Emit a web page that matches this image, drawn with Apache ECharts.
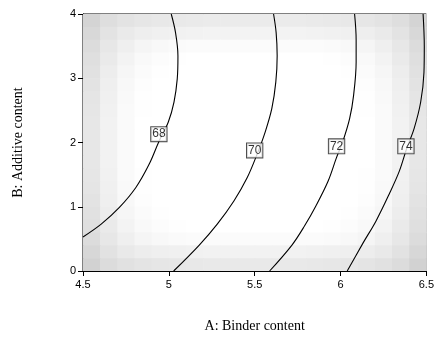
<!DOCTYPE html>
<html>
<head>
<meta charset="utf-8">
<style>
  html, body { margin: 0; padding: 0; background: #fff; }
  #chart { width: 437px; height: 338px; }
</style>
<script src="https://cdn.jsdelivr.net/npm/echarts@6/dist/echarts.min.js"></script>
</head>
<body>
<div id="chart"></div>
<script>
// Axis ranges and ticks
const xTicks = [4.5, 5, 5.5, 6, 6.5];
const yTicks = [0, 1, 2, 3, 4];

// Response contours: [Binder content, Additive content]
const contour68 = [[5.014, 4.0], [5.039, 3.71], [5.053, 3.35], [5.049, 2.99], [5.030, 2.63], [4.997, 2.32], [4.943, 2.02], [4.885, 1.66], [4.808, 1.30], [4.712, 0.99], [4.606, 0.73], [4.5, 0.53]];
const contour70 = [[5.610, 4.0], [5.625, 3.71], [5.631, 3.35], [5.623, 2.94], [5.600, 2.53], [5.562, 2.17], [5.513, 1.81], [5.456, 1.45], [5.379, 1.09], [5.282, 0.73], [5.176, 0.40], [5.028, 0.0]];
const contour72 = [[6.082, 4.0], [6.091, 3.60], [6.091, 3.25], [6.076, 2.73], [6.053, 2.37], [6.014, 2.02], [5.976, 1.76], [5.928, 1.40], [5.858, 1.02], [5.790, 0.70], [5.716, 0.40], [5.587, 0.0]];
const contour74 = [[6.481, 4.0], [6.488, 3.50], [6.486, 3.09], [6.467, 2.63], [6.429, 2.22], [6.386, 1.91], [6.342, 1.55], [6.284, 1.20], [6.207, 0.78], [6.130, 0.43], [6.039, 0.0]];

// Contour level labels and where they sit
const levels = [68, 70, 72, 74];
const levelLabelX = [4.942, 5.500, 5.977, 6.381];
const levelLabelY = [2.13, 1.877, 1.94, 1.94];

// Background shading grid (grey level per cell), rows top (B = 4) to bottom (B = 0)
const shadeRows = [
  [212,222,227,230,232,233,234,235,235,235,235,235,235,234,233,232,230,227,222,212],
  [216,227,234,238,240,241,242,243,243,243,243,243,243,242,241,240,238,234,227,216],
  [220,231,239,245,248,250,251,251,251,251,251,251,251,251,250,248,245,239,231,220],
  [223,234,243,249,252,254,255,255,255,255,255,255,255,255,254,252,249,243,234,223],
  [225,237,246,251,254,255,255,255,255,255,255,255,255,255,255,254,251,246,237,225],
  [227,239,248,253,255,255,255,255,255,255,255,255,255,255,255,255,253,248,239,227],
  [229,240,249,254,255,255,255,255,255,255,255,255,255,255,255,255,254,249,240,229],
  [230,241,250,254,255,255,255,255,255,255,255,255,255,255,255,255,254,250,241,230],
  [231,242,250,255,255,255,255,255,255,255,255,255,255,255,255,255,255,250,242,231],
  [231,242,250,255,255,255,255,255,255,255,255,255,255,255,255,255,255,250,242,231],
  [231,242,250,255,255,255,255,255,255,255,255,255,255,255,255,255,255,250,242,231],
  [231,242,250,255,255,255,255,255,255,255,255,255,255,255,255,255,255,250,242,231],
  [230,241,250,254,255,255,255,255,255,255,255,255,255,255,255,255,254,250,241,230],
  [229,240,249,254,255,255,255,255,255,255,255,255,255,255,255,255,254,249,240,229],
  [227,239,248,253,255,255,255,255,255,255,255,255,255,255,255,255,253,248,239,227],
  [225,237,246,251,254,255,255,255,255,255,255,255,255,255,255,254,251,246,237,225],
  [223,234,243,249,252,254,255,255,255,255,255,255,255,255,254,252,249,243,234,223],
  [220,231,239,245,248,250,251,251,251,251,251,251,251,251,250,248,245,239,231,220],
  [215,226,233,237,239,240,241,242,242,242,242,242,242,241,240,239,237,233,226,215],
  [210,220,225,228,230,231,232,233,233,233,233,233,233,232,231,230,228,225,220,210]
];

const xMin = xTicks[0], xMax = xTicks[xTicks.length - 1];
const yMin = yTicks[0], yMax = yTicks[yTicks.length - 1];
const nRows = shadeRows.length, nCols = shadeRows[0].length;
const cellW = (xMax - xMin) / nCols, cellH = (yMax - yMin) / nRows;

const cells = [];
shadeRows.forEach((row, r) => {
  row.forEach((g, c) => {
    cells.push([xMin + (c + 0.5) * cellW, yMax - (r + 0.5) * cellH, g]);
  });
});

const contours = [contour68, contour70, contour72, contour74];
const labelData = levels.map((lv, i) => [levelLabelX[i], levelLabelY[i], lv]);

const chart = echarts.init(document.getElementById('chart'), null, { renderer: 'canvas' });

const axisCommon = {
  type: 'value',
  splitLine: { show: false },
  axisLine: { show: true, onZero: false, lineStyle: { color: '#000', width: 1 } },
  axisTick: { show: true, inside: false, length: 5, lineStyle: { color: '#000', width: 1 } },
  axisLabel: { color: '#000', fontFamily: 'Liberation Sans', fontSize: 11 },
  nameLocation: 'middle',
  nameTextStyle: { color: '#000', fontFamily: 'Liberation Serif', fontSize: 14 }
};

chart.setOption({
  animation: false,
  backgroundColor: '#fff',
  grid: { left: 83, right: 8, top: 14, bottom: 64, show: true, borderColor: '#000', borderWidth: 1, backgroundColor: 'transparent' },
  xAxis: Object.assign({}, axisCommon, {
    min: xMin, max: xMax, interval: 0.5,
    name: 'A: Binder content', nameGap: 48,
    axisLabel: Object.assign({}, axisCommon.axisLabel, { margin: 8 })
  }),
  yAxis: Object.assign({}, axisCommon, {
    min: yMin, max: yMax, interval: 1,
    name: 'B: Additive content', nameGap: 58,
    axisLabel: Object.assign({}, axisCommon.axisLabel, { margin: 7 })
  }),
  series: [
    {
      type: 'custom',
      data: cells,
      clip: true,
      z: 1,
      silent: true,
      renderItem: function (params, api) {
        const x = api.value(0), y = api.value(1), g = api.value(2);
        const p0 = api.coord([x - cellW / 2, y + cellH / 2]);
        const p1 = api.coord([x + cellW / 2, y - cellH / 2]);
        const col = 'rgb(' + g + ',' + g + ',' + g + ')';
        return {
          type: 'rect',
          shape: { x: p0[0], y: p0[1], width: p1[0] - p0[0] + 0.6, height: p1[1] - p0[1] + 0.6 },
          style: { fill: col, stroke: null }
        };
      }
    }
  ].concat(contours.map(pts => ({
    type: 'line',
    data: pts,
    smooth: 0.35,
    showSymbol: false,
    symbol: 'none',
    clip: true,
    z: 3,
    silent: true,
    lineStyle: { color: '#000', width: 1.1 }
  }))).concat([
    {
      type: 'scatter',
      data: labelData,
      symbolSize: 1,
      itemStyle: { color: 'rgba(0,0,0,0)' },
      z: 5,
      silent: true,
      label: {
        show: true,
        position: 'inside',
        formatter: p => String(p.value[2]),
        color: '#000',
        fontFamily: 'Liberation Sans',
        fontSize: 12,
        lineHeight: 12,
        backgroundColor: '#fff',
        borderColor: '#222',
        borderWidth: 1,
        padding: [1, 1, 1, 1]
      }
    }
  ])
});
</script>
</body>
</html>
